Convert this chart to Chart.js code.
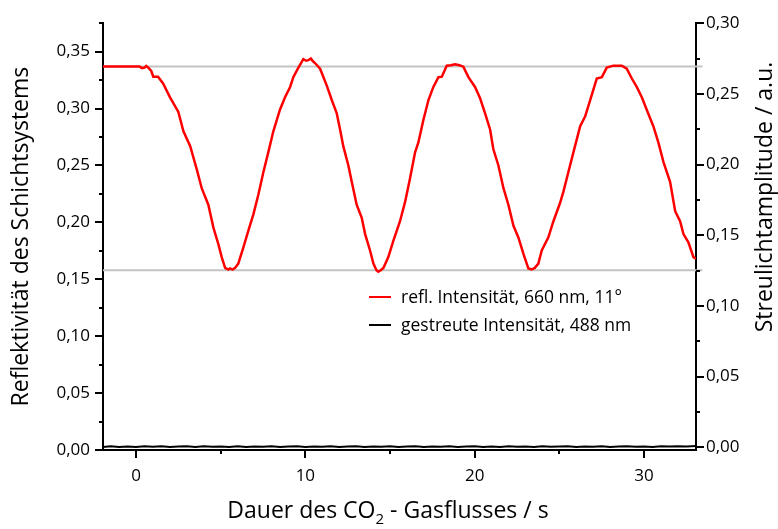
<!DOCTYPE html>
<html><head><meta charset="utf-8">
<script src="https://cdn.jsdelivr.net/npm/chart.js@4"></script>
<style>
html,body{margin:0;padding:0;background:#fff;}
#wrap{position:relative;width:778px;height:529px;}
#legend{position:absolute;left:369px;top:283px;font-family:'Open Sans';font-size:17.5px;color:#000;line-height:1;}
.li{display:flex;align-items:center;height:28px;white-space:nowrap;}
.sw{width:22px;height:0;border-top:2px solid;margin-right:10px;}
</style></head><body>
<div id="wrap"><canvas id="c" width="778" height="529"></canvas><div id="legend"></div></div>
<script>
// reflected intensity (left axis)
const reflTime = [-1.95,0.2,0.35,0.5,0.6,0.75,0.9,1.02,1.3,1.6,2.0,2.5,2.8,3.2,3.58,3.88,4.27,4.57,4.86,5.06,5.26,5.45,5.55,5.7,5.85,6.04,6.34,6.63,6.93,7.22,7.52,7.81,8.11,8.5,8.8,9.1,9.29,9.59,9.88,10.05,10.18,10.32,10.45,10.57,10.87,11.26,11.56,11.85,12.05,12.24,12.54,12.74,13.03,13.33,13.53,13.82,14.02,14.2,14.31,14.45,14.61,14.9,15.2,15.59,15.89,16.18,16.48,16.67,16.97,17.27,17.56,17.86,18.06,18.35,18.6,18.84,19.1,19.33,19.63,20.02,20.32,20.61,20.91,21.1,21.4,21.7,21.99,22.29,22.58,22.88,23.17,23.37,23.55,23.76,23.96,24.35,24.65,25.04,25.24,25.53,25.83,26.23,26.52,26.82,27.21,27.51,27.8,28.19,28.69,28.98,29.28,29.57,29.87,30.16,30.55,30.85,31.15,31.54,31.84,32.13,32.33,32.62,32.92,33.07];
const reflValue = [0.337,0.337,0.3355,0.336,0.3375,0.3355,0.333,0.328,0.328,0.322,0.310,0.297,0.280,0.267,0.247,0.230,0.2155,0.1954,0.181,0.1695,0.160,0.1585,0.1595,0.1585,0.160,0.1638,0.178,0.1925,0.207,0.224,0.244,0.2615,0.280,0.299,0.310,0.319,0.3276,0.336,0.3434,0.342,0.3425,0.344,0.3415,0.340,0.335,0.3204,0.3075,0.296,0.2816,0.267,0.250,0.2356,0.2155,0.204,0.1897,0.1753,0.1638,0.158,0.1566,0.158,0.160,0.1695,0.184,0.201,0.218,0.2385,0.2615,0.270,0.290,0.3075,0.319,0.3276,0.328,0.3377,0.338,0.339,0.338,0.3368,0.3276,0.319,0.309,0.296,0.2816,0.2644,0.250,0.230,0.2155,0.197,0.1868,0.1724,0.1595,0.1586,0.160,0.1638,0.1753,0.1868,0.201,0.217,0.227,0.244,0.2615,0.2845,0.293,0.3075,0.3264,0.3276,0.336,0.3377,0.3377,0.335,0.3264,0.319,0.310,0.299,0.2845,0.270,0.253,0.2356,0.2098,0.201,0.1897,0.1825,0.1695,0.168];
// scattered intensity (right axis)
const scatTime = [-1.95,-1.5,-1,-0.5,0,0.5,1,1.5,2,2.5,3,3.5,4,4.5,5,5.5,6,6.5,7,7.5,8,8.5,9,9.5,10,10.5,11,11.5,12,12.5,13,13.5,14,14.5,15,15.5,16,16.5,17,17.5,18,18.5,19,19.5,20,20.5,21,21.5,22,22.5,23,23.5,24,24.5,25,25.5,26,26.5,27,27.5,28,28.5,29,29.5,30,30.5,31,31.5,32,32.5,33.07];
const scatValue = [0.0002,0.0006,0.0001,0.0005,0.0002,0.0007,0.0003,0.0006,0.0001,0.0004,0.0006,0.0002,0.0007,0.0003,0.0005,0.0001,0.0006,0.0002,0.0005,0.0003,0.0007,0.0002,0.0004,0.0006,0.0001,0.0005,0.0003,0.0006,0.0002,0.0004,0.0007,0.0002,0.0005,0.0003,0.0006,0.0001,0.0004,0.0006,0.0002,0.0005,0.0003,0.0007,0.0002,0.0004,0.0006,0.0002,0.0005,0.0001,0.0006,0.0003,0.0005,0.0002,0.0007,0.0003,0.0004,0.0006,0.0002,0.0005,0.0003,0.0006,0.0002,0.0004,0.0007,0.0003,0.0005,0.0002,0.0006,0.0004,0.0007,0.0005,0.0008];
// reference levels (left axis)
const guideLevels = [0.337, 0.158];
const guideSpan = [-1.95, 33.45];
// ticks
const xMajor = [0,10,20,30];
const xMinor = [5,15,25];
const leftMajor = [0,0.05,0.10,0.15,0.20,0.25,0.30,0.35];
const leftMinor = [0.025,0.075,0.125,0.175,0.225,0.275,0.325,0.375];
const rightMajor = [0,0.05,0.10,0.15,0.20,0.25,0.30];
const rightMinor = [0.025,0.075,0.125,0.175,0.225,0.275];
const rightTitle = 'Streulichtamplitude / a.u.';
const xTitleParts = ['Dauer des CO', '2', ' - Gasflusses / s'];

const FONT = "'Open Sans'";
const fmt = v => v.toFixed(2).replace('.', ',');

const guideSets = guideLevels.map(l => ({
  label: 'guide', data: guideSpan.map(t => ({x: t, y: l})), yAxisID: 'y',
  borderColor: '#c3c3c3', borderWidth: 2, pointRadius: 0, clip: false, order: 3, legend: false
}));

const datasets = [
  ...guideSets,
  {label: 'gestreute Intensität, 488 nm', data: scatTime.map((t,i)=>({x:t,y:scatValue[i]})), yAxisID: 'y2',
   borderColor: '#000', borderWidth: 2, pointRadius: 0, order: 2, legend: true, legendIndex: 1},
  {label: 'refl. Intensität, 660 nm, 11°', data: reflTime.map((t,i)=>({x:t,y:reflValue[i]})), yAxisID: 'y',
   borderColor: '#ff0000', borderWidth: 2.5, pointRadius: 0, order: 1, legend: true, legendIndex: 0}
];

const tickPlugin = {
  id: 'customTicks',
  afterDraw(chart) {
    const ctx = chart.ctx, sx = chart.scales.x, sl = chart.scales.y, sr = chart.scales.y2;
    ctx.save(); ctx.strokeStyle = '#000'; ctx.lineWidth = 2;
    const hx = (vals, len) => vals.forEach(v => { const p = Math.round(sx.getPixelForValue(v)); ctx.beginPath(); ctx.moveTo(p, sx.top); ctx.lineTo(p, sx.top + len); ctx.stroke(); });
    const hl = (vals, len) => vals.forEach(v => { const p = Math.round(sl.getPixelForValue(v)); ctx.beginPath(); ctx.moveTo(sl.right, p); ctx.lineTo(sl.right - len, p); ctx.stroke(); });
    const hr = (vals, len) => vals.forEach(v => { const p = Math.round(sr.getPixelForValue(v)); ctx.beginPath(); ctx.moveTo(sr.left, p); ctx.lineTo(sr.left + len, p); ctx.stroke(); });
    hx(xMajor, 8); hx(xMinor, 4); hl(leftMajor, 8); hl(leftMinor, 4); hr(rightMajor, 8); hr(rightMinor, 4);
    ctx.fillStyle = '#000';
    // x axis title with a real subscript
    const big = "23px 'Open Sans'", small = "15px 'Open Sans'";
    ctx.textBaseline = 'alphabetic'; ctx.textAlign = 'left';
    ctx.font = big; const w0 = ctx.measureText(xTitleParts[0]).width, w2 = ctx.measureText(xTitleParts[2]).width;
    ctx.font = small; const w1 = ctx.measureText(xTitleParts[1]).width;
    let tx = 388 - (w0 + w1 + w2) / 2; const base = 518;
    ctx.font = big; ctx.fillText(xTitleParts[0], tx, base); tx += w0;
    ctx.font = small; ctx.fillText(xTitleParts[1], tx, base + 6); tx += w1;
    ctx.font = big; ctx.fillText(xTitleParts[2], tx, base);
    // right axis title, reading bottom-to-top like the left one
    ctx.font = big; ctx.textAlign = 'center'; ctx.textBaseline = 'middle';
    ctx.translate(sr.right - 13, 197); ctx.rotate(-Math.PI / 2); ctx.fillText(rightTitle, 0, 0);
    ctx.restore();
  }
};

new Chart(document.getElementById('c'), {
  type: 'line',
  data: {datasets},
  options: {
    responsive: false, animation: false,
    layout: {padding: {top: 15, left: 0, right: 0, bottom: 0}},
    plugins: {legend: {display: false}, tooltip: {enabled: false}},
    scales: {
      x: {type: 'linear', min: -1.95, max: 33.07,
        afterBuildTicks: s => { s.ticks = xMajor.map(v => ({value: v})); },
        afterFit: s => { s.height = 79; },
        grid: {display: false, drawTicks: false}, border: {display: true, color: '#000', width: 2},
        ticks: {padding: 16, color: '#000', font: {family: FONT, size: 17}, callback: v => String(v)},
        title: {display: false, text: 'Dauer des CO₂ - Gasflusses / s'}
      },
      y: {type: 'linear', position: 'left', min: 0, max: 0.375,
        afterBuildTicks: s => { s.ticks = leftMajor.map(v => ({value: v})); },
        afterFit: s => { s.width = 103; },
        grid: {display: false, drawTicks: false}, border: {display: true, color: '#000', width: 2},
        ticks: {padding: 13, color: '#000', font: {family: FONT, size: 17}, callback: v => fmt(v)},
        title: {display: true, text: 'Reflektivität des Schichtsystems', color: '#000', font: {family: FONT, size: 23}, padding: {top: 8, bottom: 0}}
      },
      y2: {type: 'linear', position: 'right', min: -0.002, max: 0.30,
        afterBuildTicks: s => { s.ticks = rightMajor.map(v => ({value: v})); },
        afterFit: s => { s.width = 82; },
        grid: {display: false, drawTicks: false}, border: {display: true, color: '#000', width: 2},
        ticks: {padding: 10, color: '#000', font: {family: FONT, size: 17}, callback: v => fmt(v)},
        title: {display: false, text: rightTitle}
      }
    }
  },
  plugins: [tickPlugin]
});

// legend
const lg = document.getElementById('legend');
datasets.filter(d => d.legend).sort((a,b) => a.legendIndex - b.legendIndex).forEach(d => {
  const row = document.createElement('div'); row.className = 'li';
  const sw = document.createElement('span'); sw.className = 'sw'; sw.style.borderTopColor = d.borderColor;
  const tx = document.createElement('span'); tx.textContent = d.label;
  row.appendChild(sw); row.appendChild(tx); lg.appendChild(row);
});
</script>
</body></html>
